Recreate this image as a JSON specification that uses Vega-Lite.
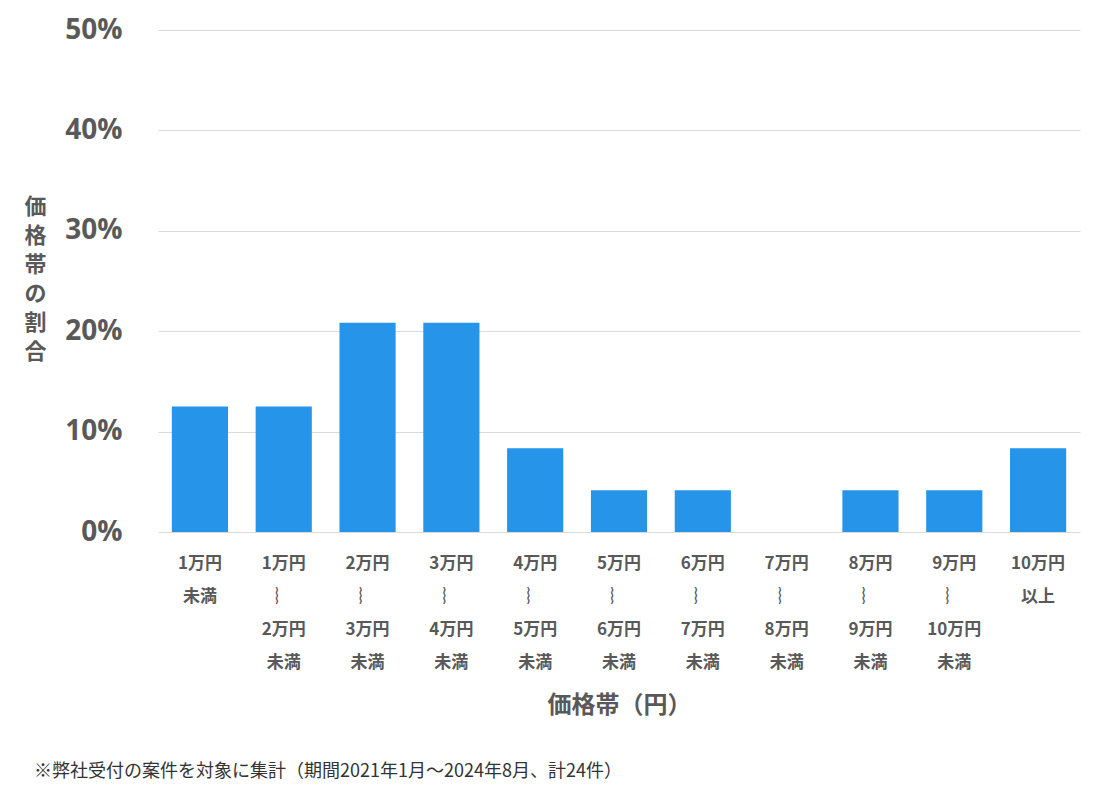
{
  "$schema": "https://vega.github.io/schema/vega-lite/v6.json",
  "width": 922,
  "height": 502,
  "autosize": {"type": "none"},
  "padding": {"left": 158, "top": 30, "right": 29, "bottom": 270},
  "background": "white",
  "title": {
    "text": "※弊社受付の案件を対象に集計（期間2021年1月～2024年8月、計24件）",
    "orient": "bottom",
    "anchor": "start",
    "frame": "group",
    "dx": -124,
    "offset": 46,
    "font": "Noto Sans CJK JP",
    "fontSize": 18,
    "fontWeight": "normal",
    "color": "#333333"
  },
  "data": {
    "values": [
      {"band": "1万円\n未満", "share": 0.125},
      {"band": "1万円\n︴\n2万円\n未満", "share": 0.125},
      {"band": "2万円\n︴\n3万円\n未満", "share": 0.2083},
      {"band": "3万円\n︴\n4万円\n未満", "share": 0.2083},
      {"band": "4万円\n︴\n5万円\n未満", "share": 0.0833},
      {"band": "5万円\n︴\n6万円\n未満", "share": 0.0417},
      {"band": "6万円\n︴\n7万円\n未満", "share": 0.0417},
      {"band": "7万円\n︴\n8万円\n未満", "share": 0},
      {"band": "8万円\n︴\n9万円\n未満", "share": 0.0417},
      {"band": "9万円\n︴\n10万円\n未満", "share": 0.0417},
      {"band": "10万円\n以上", "share": 0.0833}
    ]
  },
  "mark": {"type": "bar", "color": "#2694E8"},
  "encoding": {
    "x": {
      "field": "band",
      "type": "nominal",
      "sort": null,
      "scale": {"paddingInner": 0.33, "paddingOuter": 0.165},
      "axis": {
        "title": "価格帯（円）",
        "titleFont": "Noto Sans CJK JP",
        "titleFontSize": 24,
        "titleFontWeight": "bold",
        "titleColor": "#595959",
        "titleBaseline": "middle",
        "titleY": 173,
        "labelExpr": "split(datum.label, '\\n')",
        "labelAngle": 0,
        "labelFont": "Noto Sans CJK JP",
        "labelFontSize": 17,
        "labelFontWeight": "bold",
        "labelColor": "#595959",
        "labelBaseline": "middle",
        "labelPadding": 31,
        "labelLineHeight": 33,
        "labelLimit": 0,
        "domain": false,
        "ticks": false
      }
    },
    "y": {
      "field": "share",
      "type": "quantitative",
      "scale": {"domain": [0, 0.5]},
      "axis": {
        "values": [0, 0.1, 0.2, 0.3, 0.4, 0.5],
        "format": ".0%",
        "title": ["価", "格", "帯", "の", "割", "合"],
        "titleAngle": 0,
        "titleAlign": "center",
        "titleBaseline": "top",
        "titleX": -123,
        "titleY": 166,
        "titleLineHeight": 29,
        "titleFont": "Noto Sans CJK JP",
        "titleFontSize": 22,
        "titleFontWeight": "bold",
        "titleColor": "#595959",
        "labelFont": "Open Sans",
        "labelFontSize": 28,
        "labelFontWeight": "bold",
        "labelColor": "#595959",
        "labelPadding": 36,
        "grid": true,
        "gridColor": "#d9d9d9",
        "gridWidth": 1,
        "domain": false,
        "ticks": false
      }
    }
  },
  "config": {"view": {"stroke": null}}
}
